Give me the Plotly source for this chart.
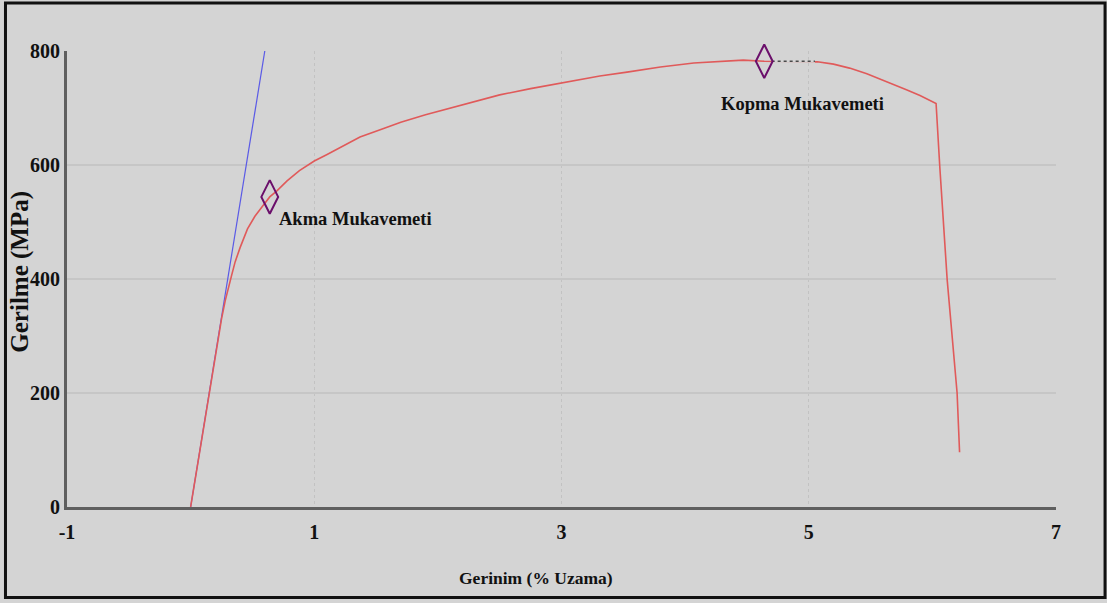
import plotly.graph_objects as go

# Elastic reference line (modulus line)
elastic_x = [0.0, 0.60]
elastic_y = [0, 800]

# Stress-strain curve
strain = [0.00, 0.10, 0.20, 0.25, 0.28, 0.31, 0.33, 0.36, 0.40, 0.46, 0.52, 0.58,
          0.64, 0.70, 0.78, 0.88, 1.00, 1.10, 1.20, 1.37, 1.55, 1.70, 1.90, 2.10,
          2.30, 2.50, 2.75, 3.00, 3.31, 3.53, 3.80, 4.07, 4.30, 4.47, 4.64, 5.00,
          5.07, 5.20, 5.33, 5.47, 5.60, 5.70, 5.79, 5.90, 6.03, 6.06, 6.12, 6.20, 6.22]
stress = [0, 133, 266, 330, 362, 385, 405, 430, 455, 488, 510, 527,
          544, 555, 572, 590, 607, 618, 630, 649, 663, 675, 688, 700,
          712, 723, 734, 744, 756, 763, 772, 779, 782, 784, 782, 782,
          781, 777, 770, 760, 749, 741, 732, 722, 708, 597, 398, 200, 96]

# Plateau segment near ultimate strength
plateau_x = [4.70, 5.05]
plateau_y = [782, 782]

# Marked points
point_names = ["Akma Mukavemeti", "Kopma Mukavemeti"]
point_x = [0.64, 4.64]
point_y = [544, 782]
label_x = [1.33, 4.95]
label_y = [505, 707]

x_ticks = [-1, 1, 3, 5, 7]
y_ticks = [0, 200, 400, 600, 800]

BG = "#d4d4d4"
SERIF = "Liberation Serif, Times New Roman, serif"

fig = go.Figure()
fig.add_trace(go.Scatter(x=elastic_x, y=elastic_y, mode="lines",
                         line=dict(color="#5a5ae6", width=1.2), hoverinfo="skip"))
fig.add_trace(go.Scatter(x=strain, y=stress, mode="lines",
                         line=dict(color="#e05a5a", width=1.6)))
fig.add_trace(go.Scatter(x=plateau_x, y=plateau_y, mode="lines",
                         line=dict(color=BG, width=3), hoverinfo="skip"))
fig.add_trace(go.Scatter(x=plateau_x, y=plateau_y, mode="lines",
                         line=dict(color="#4a4a4a", width=1.5, dash="dot"), hoverinfo="skip"))
fig.add_trace(go.Scatter(x=point_x, y=point_y, mode="markers", text=point_names,
                         cliponaxis=False,
                         marker=dict(symbol="diamond-tall-open", size=24, color="#6b0f6b",
                                     line=dict(color="#6b0f6b", width=2))))

for name, lx, ly in zip(point_names, label_x, label_y):
    fig.add_annotation(x=lx, y=ly, text=f"<b>{name}</b>", showarrow=False,
                       font=dict(family=SERIF, size=18.5, color="#111111"),
                       xanchor="center", yanchor="middle")

# Axis titles
fig.add_annotation(xref="paper", yref="paper", x=-0.047, y=0.515,
                   text="<b>Gerilme (MPa)</b>", textangle=-90, showarrow=False,
                   font=dict(family=SERIF, size=25, color="#111111"),
                   xanchor="center", yanchor="middle")
fig.add_annotation(xref="paper", yref="paper", x=0.4745, y=-0.1557,
                   text="<b>Gerinim (% Uzama)</b>", showarrow=False,
                   font=dict(family=SERIF, size=17.5, color="#111111"),
                   xanchor="center", yanchor="middle")

# Outer frame
fig.add_shape(type="rect", xref="paper", yref="paper",
              x0=-0.0622, x1=1.0496, y0=-0.1985, y1=1.1055,
              line=dict(color="#111111", width=3), fillcolor="rgba(0,0,0,0)", layer="above")

fig.update_layout(
    width=1107, height=603,
    margin=dict(l=66.5, r=51, t=51, b=96),
    paper_bgcolor=BG, plot_bgcolor=BG,
    showlegend=False,
    font=dict(family=SERIF, color="#111111"),
)
fig.update_xaxes(range=[-1, 7], tickvals=x_ticks, ticktext=[f"<b>{v}</b>" for v in x_ticks],
                 showline=True, linecolor="#5f5f5f", linewidth=3,
                 showgrid=True, gridcolor="#c2c2c2", gridwidth=1, griddash="dot",
                 zeroline=False, ticks="outside", ticklen=5, tickcolor="rgba(0,0,0,0)",
                 tickfont=dict(family=SERIF, size=20, color="#111111"))
fig.update_yaxes(range=[0, 800], tickvals=y_ticks, ticktext=[f"<b>{v}</b>" for v in y_ticks],
                 showline=True, linecolor="#5f5f5f", linewidth=3,
                 showgrid=True, gridcolor="#c6c6c6", gridwidth=2,
                 zeroline=False, ticks="",
                 tickfont=dict(family=SERIF, size=20, color="#111111"))

fig.write_html("out.html")
